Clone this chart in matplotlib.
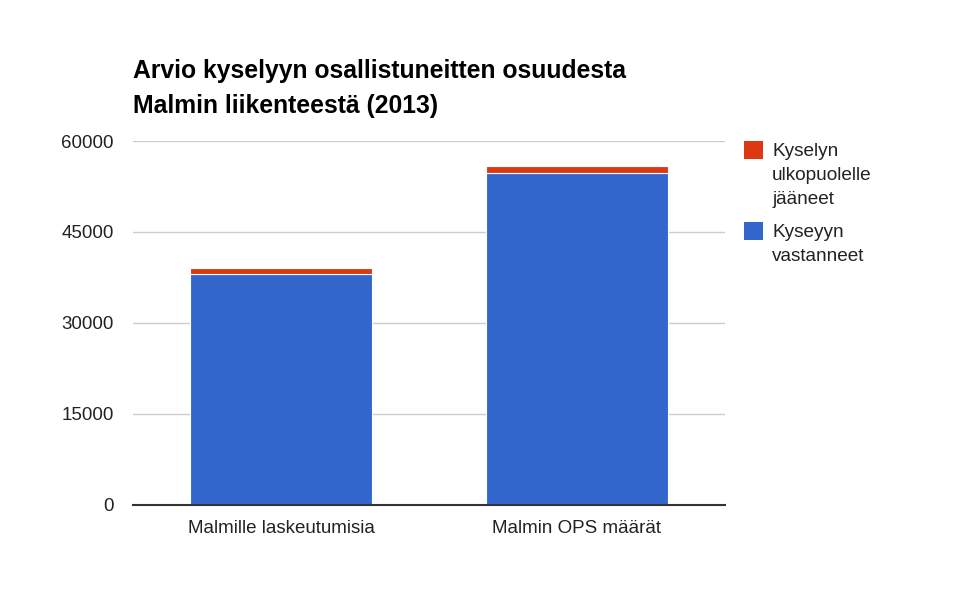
import matplotlib
matplotlib.use("Agg")
import matplotlib.pyplot as plt
from matplotlib.patches import Rectangle
import numpy as np

plt.rcParams['font.family'] = ['Liberation Sans', 'DejaVu Sans']

# data
kategoriat = ["Malmille laskeutumisia", "Malmin OPS määrät"]
vastanneet = [38000, 54800]
ulkopuoliset = [1000, 1000]
sarjat = ["Kyselyn\nulkopuolelle\njääneet", "Kyseyyn\nvastanneet"]
y_ticks = [0, 15000, 30000, 45000, 60000]

SININEN = "#3366CC"
PUNAINEN = "#DC3912"

fig = plt.figure(figsize=(9.6, 6.08), dpi=100)
ax = fig.add_axes([133 / 960, 1 - 504.5 / 608, (725 - 133) / 960, (504.5 - 141) / 608])

x = np.arange(len(kategoriat))
ax.bar(x, vastanneet, width=0.615, color=SININEN, edgecolor="white", linewidth=0.8, zorder=3)
ax.bar(x, ulkopuoliset, bottom=vastanneet, width=0.615, color=PUNAINEN,
       edgecolor="white", linewidth=0.8, zorder=3)

ax.set_xlim(-0.5, 1.5)
ax.set_ylim(0, 60000)
ax.set_yticks(y_ticks)
ax.set_yticklabels([str(v) for v in y_ticks])
ax.set_xticks(x)
ax.set_xticklabels(kategoriat)
ax.tick_params(axis="both", length=0, labelsize=13.5, colors="#222222")
ax.tick_params(axis="y", pad=14)
ax.tick_params(axis="x", pad=11)
ax.yaxis.grid(True, color="#cccccc", linewidth=1, zorder=0)
for s in ["top", "right", "left"]:
    ax.spines[s].set_visible(False)
ax.spines["bottom"].set_color("#333333")
ax.spines["bottom"].set_linewidth(1.5)
ax.spines["bottom"].set_zorder(4)

# otsikko (baseline = viimeinen rivi)
fig.text(133 / 960, 1 - 113 / 608, "Arvio kyselyyn osallistuneitten osuudesta\nMalmin liikenteestä (2013)",
         fontsize=17.8, fontweight="bold", ha="left", va="baseline", linespacing=1.6, color="black")

# selite käsin
selite = [(PUNAINEN, sarjat[0], 141), (SININEN, sarjat[1], 222)]
for vari, teksti, ylä in selite:
    fig.patches.append(Rectangle((744 / 960, 1 - (ylä + 18) / 608), 19 / 960, 18 / 608,
                                 transform=fig.transFigure, facecolor=vari, edgecolor="none"))
    fig.text(772 / 960, 1 - (ylä + 2) / 608, teksti, fontsize=13.7, color="#222222",
             ha="left", va="top", linespacing=1.55)

fig.savefig("out.png", dpi=100)
